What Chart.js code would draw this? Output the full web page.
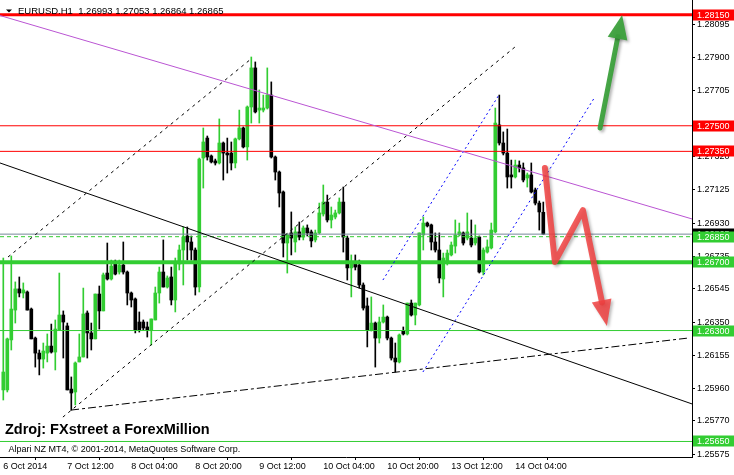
<!DOCTYPE html>
<html>
<head>
<meta charset="utf-8">
<script src="https://cdn.jsdelivr.net/npm/chart.js@4.4.0/dist/chart.umd.min.js"></script>
<style>
  html, body { margin: 0; padding: 0; background: #fff; }
  #wrap { width: 734px; height: 475px; }
</style>
</head>
<body>
<div id="wrap"><canvas id="chart" width="734" height="475"></canvas></div>
<script>
// EURUSD H1, one bar per hour, 6 Oct 20:00 .. 14 Oct 11:00
const opens = [1.25952,1.25952,1.26245,1.26420,1.26544,1.26520,1.26526,1.26426,1.26256,1.26168,
  1.26133,1.26168,1.26209,1.26174,1.26303,1.26391,1.26327,1.25957,1.25940,1.26116,
  1.26145,1.26403,1.26286,1.26251,1.26514,1.26415,1.26637,1.26602,1.26690,1.26643,
  1.26684,1.26643,1.26520,1.26485,1.26350,1.26350,1.26321,1.26303,1.26362,1.26520,
  1.26643,1.26555,1.26614,1.26479,1.26690,1.26772,1.26854,1.26819,1.26772,1.26555,
  1.27311,1.27428,1.27323,1.27294,1.27282,1.27399,1.27340,1.27340,1.27282,1.27423,
  1.27487,1.27376,1.27610,1.27839,1.27592,1.27592,1.27604,1.27680,1.27317,1.27229,
  1.27112,1.26813,1.26872,1.26819,1.26878,1.26848,1.26901,1.26878,1.26831,1.26872,
  1.26983,1.27053,1.26948,1.26965,1.26989,1.27053,1.26842,1.26667,1.26696,1.26684,
  1.26567,1.26444,1.26303,1.26344,1.26256,1.26350,1.26379,1.26256,1.26139,1.26116,
  1.26297,1.26280,1.26461,1.26391,1.26450,1.26860,1.26930,1.26919,1.26819,1.26772,
  1.26602,1.26696,1.26743,1.26795,1.26860,1.26872,1.26842,1.26842,1.26813,1.26848,
  1.26643,1.26760,1.26784,1.26878,1.27505,1.27399,1.27340,1.27212,1.27200,1.27270,
  1.27253,1.27194,1.27212,1.27124,1.27047,1.26993];
const highs = [1.26725,1.26256,1.26737,1.26585,1.26614,1.26579,1.26532,1.26432,1.26262,1.26186,
  1.26227,1.26280,1.26338,1.26362,1.26637,1.26415,1.26344,1.26028,1.26116,1.26280,
  1.26549,1.26415,1.26344,1.26514,1.26561,1.26637,1.26813,1.26713,1.26713,1.26713,
  1.26819,1.26649,1.26526,1.26491,1.26409,1.26362,1.26350,1.26368,1.26555,1.26672,
  1.26831,1.26620,1.26672,1.26725,1.26801,1.26907,1.26907,1.26854,1.26784,1.27311,
  1.27487,1.27440,1.27329,1.27305,1.27540,1.27405,1.27428,1.27405,1.27428,1.27592,
  1.27493,1.27616,1.27903,1.27874,1.27710,1.27680,1.27839,1.27757,1.27323,1.27235,
  1.27118,1.26866,1.26995,1.26907,1.26936,1.26913,1.26919,1.26889,1.26889,1.27047,
  1.27153,1.27094,1.27024,1.27006,1.27077,1.27141,1.26854,1.26743,1.26743,1.26713,
  1.26579,1.26491,1.26497,1.26350,1.26379,1.26450,1.26385,1.26262,1.26227,1.26280,
  1.26321,1.26461,1.26479,1.26461,1.26872,1.26965,1.26936,1.26924,1.26872,1.26872,
  1.26754,1.26772,1.26819,1.26948,1.26930,1.26878,1.26989,1.26948,1.26919,1.26854,
  1.26784,1.26831,1.26930,1.27604,1.27680,1.27464,1.27481,1.27299,1.27299,1.27294,
  1.27282,1.27223,1.27282,1.27135,1.27059,1.27053];
const lows = [1.25893,1.25940,1.26186,1.26344,1.26497,1.26491,1.26420,1.26251,1.26086,1.26040,
  1.26080,1.26116,1.26168,1.26069,1.26303,1.26139,1.25952,1.25834,1.25864,1.26116,
  1.26145,1.26139,1.26186,1.26251,1.26309,1.26415,1.26596,1.26596,1.26626,1.26631,
  1.26631,1.26450,1.26438,1.26286,1.26291,1.26303,1.26262,1.26215,1.26362,1.26461,
  1.26555,1.26549,1.26450,1.26409,1.26655,1.26567,1.26713,1.26713,1.26508,1.26526,
  1.27135,1.27299,1.27282,1.27270,1.27276,1.27182,1.27223,1.27241,1.27253,1.27417,
  1.27370,1.27299,1.27516,1.27575,1.27516,1.27581,1.27598,1.27311,1.27182,1.27024,
  1.26731,1.26637,1.26743,1.26760,1.26831,1.26831,1.26854,1.26790,1.26819,1.26866,
  1.26971,1.26936,1.26901,1.26954,1.26983,1.26760,1.26596,1.26497,1.26655,1.26549,
  1.26420,1.26204,1.26297,1.26086,1.26227,1.26344,1.26245,1.26127,1.26057,1.26110,
  1.26274,1.26274,1.26385,1.26333,1.26444,1.26772,1.26907,1.26772,1.26760,1.26579,
  1.26497,1.26684,1.26737,1.26754,1.26854,1.26801,1.26831,1.26790,1.26801,1.26637,
  1.26626,1.26754,1.26778,1.26872,1.27387,1.27329,1.27135,1.27135,1.27194,1.27229,
  1.27171,1.27141,1.27106,1.27036,1.26889,1.26864];
const closes = [1.26057,1.26251,1.26426,1.26544,1.26520,1.26538,1.26420,1.26251,1.26168,1.26133,
  1.26180,1.26209,1.26174,1.26309,1.26391,1.26350,1.25952,1.25934,1.26110,1.26145,
  1.26397,1.26286,1.26251,1.26514,1.26415,1.26626,1.26602,1.26678,1.26631,1.26684,
  1.26643,1.26520,1.26479,1.26303,1.26303,1.26315,1.26303,1.26368,1.26520,1.26643,
  1.26555,1.26608,1.26479,1.26690,1.26772,1.26848,1.26819,1.26772,1.26555,1.27305,
  1.27405,1.27317,1.27288,1.27282,1.27399,1.27340,1.27329,1.27282,1.27423,1.27487,
  1.27376,1.27610,1.27839,1.27581,1.27604,1.27604,1.27680,1.27317,1.27229,1.27106,
  1.26813,1.26860,1.26842,1.26878,1.26848,1.26901,1.26872,1.26825,1.26872,1.26989,
  1.27053,1.26948,1.26977,1.26989,1.27053,1.26848,1.26667,1.26696,1.26672,1.26567,
  1.26432,1.26303,1.26344,1.26256,1.26350,1.26379,1.26256,1.26139,1.26116,1.26274,
  1.26280,1.26461,1.26391,1.26461,1.26872,1.26930,1.26913,1.26819,1.26772,1.26608,
  1.26725,1.26754,1.26801,1.26860,1.26878,1.26813,1.26878,1.26801,1.26842,1.26643,
  1.26772,1.26790,1.26889,1.27516,1.27399,1.27340,1.27200,1.27200,1.27270,1.27253,
  1.27182,1.27212,1.27112,1.27047,1.26995,1.26865];

const xTickBars = [0, 16, 32, 48, 64, 80, 96, 112, 128];
const xTickLabels = ["6 Oct 2014", "7 Oct 12:00", "8 Oct 04:00", "8 Oct 20:00", "9 Oct 12:00",
  "10 Oct 04:00", "10 Oct 20:00", "13 Oct 12:00", "14 Oct 04:00"];
const yTickValues = [1.25575, 1.25770, 1.25960, 1.26155, 1.26350, 1.26545, 1.26735,
  1.26930, 1.27125, 1.27320, 1.27510, 1.27705, 1.27900, 1.28095];

// horizontal levels and the bid line
const levelPrices = [1.28150, 1.27500, 1.27350, 1.26850, 1.26700, 1.26300, 1.25650];
const bidPrice = 1.26865;

// trend objects, [bar, price] pairs
const orchidLine = [[-0.825, 1.28146], [172.175, 1.26954]];
const blackLine = [[-0.825, 1.27282], [172.175, 1.25870]];
const channelUpper = [[1.18, 1.26731], [61.9, 1.27891]];
const channelLower = [[14.9, 1.25793], [128.2, 1.27967]];
const supportLine = [[16.95, 1.25834], [171.2, 1.26256]];
const blueUpper = [[94.9, 1.26596], [123.9, 1.27680]];
const blueLower = [[104.9, 1.26057], [147.9, 1.27669]];
const greenArrow = [[149.2, 1.27487], [154.7, 1.28149]];
const redArrow = [[135.4, 1.27253], [137.9, 1.26702], [144.9, 1.27006], [150.9, 1.26327]];

// styling
const X_MIN = -0.825, X_MAX = 172.175;
const Y_MIN = 1.25559, Y_MAX = 1.28237;
const BULL = '#32CD32', BEAR = '#000000';
const levelColors = ['#FF0000', '#FF0000', '#FF0000', '#32CD32', '#32CD32', '#32CD32', '#32CD32'];
const levelWidths = [3, 1, 1, 1, 4, 1, 1];
const levelDashes = [[], [], [], [4, 3], [], [], []];
const FONT = '"Liberation Sans", Arial, sans-serif';

const idx = opens.map((_, i) => i);
const colors = idx.map(i => closes[i] >= opens[i] ? BULL : BEAR);

function seg(points, color, width, dash) {
  return {
    type: 'line',
    data: points.map(p => ({ x: p[0], y: p[1] })),
    borderColor: color,
    borderWidth: width,
    borderDash: dash || [],
    pointRadius: 0,
    fill: false,
    tension: 0,
    order: 1
  };
}

const datasets = [
  {
    type: 'bar',
    data: idx.map(i => ({ x: i, y: [lows[i], highs[i]] })),
    backgroundColor: colors,
    barThickness: 1,
    grouped: false,
    order: 10
  },
  {
    type: 'bar',
    data: idx.map(i => ({ x: i, y: [Math.min(opens[i], closes[i]), Math.max(opens[i], closes[i])] })),
    backgroundColor: colors,
    barThickness: 3,
    minBarLength: 1,
    grouped: false,
    order: 9
  },
  seg(orchidLine, '#BA55D3', 1),
  seg(blackLine, '#000000', 1),
  seg(channelUpper, '#000000', 1, [3, 4]),
  seg(channelLower, '#000000', 1, [3, 4]),
  seg(supportLine, '#000000', 1, [8, 3, 3, 3]),
  seg(blueUpper, '#0000FF', 1, [2, 3]),
  seg(blueLower, '#0000FF', 1, [2, 3]),
  seg([[X_MIN, bidPrice], [X_MAX, bidPrice]], '#778899', 1)
];
levelPrices.forEach((p, i) => {
  datasets.push(seg([[X_MIN, p], [X_MAX, p]], levelColors[i], levelWidths[i], levelDashes[i]));
});

function drawArrow(ctx, pts, color, width, headLen, headHalf) {
  const n = pts.length;
  const tip = pts[n - 1], prev = pts[n - 2];
  const dx = tip.x - prev.x, dy = tip.y - prev.y;
  const len = Math.hypot(dx, dy);
  const ux = dx / len, uy = dy / len;
  const bx = tip.x - ux * headLen, by = tip.y - uy * headLen;
  ctx.strokeStyle = color;
  ctx.fillStyle = color;
  ctx.lineWidth = width;
  ctx.beginPath();
  ctx.moveTo(pts[0].x, pts[0].y);
  for (let i = 1; i < n - 1; i++) ctx.lineTo(pts[i].x, pts[i].y);
  ctx.lineTo(bx + ux * 2, by + uy * 2);
  ctx.stroke();
  ctx.beginPath();
  ctx.moveTo(tip.x, tip.y);
  ctx.lineTo(bx - uy * headHalf, by + ux * headHalf);
  ctx.lineTo(bx + uy * headHalf, by - ux * headHalf);
  ctx.closePath();
  ctx.fill();
}

const overlay = {
  id: 'overlay',
  afterDatasetsDraw(chart) {
    const { ctx, scales: { x, y } } = chart;
    const pt = p => ({ x: x.getPixelForValue(p[0]), y: y.getPixelForValue(p[1]) });
    ctx.save();
    ctx.lineCap = 'round';
    ctx.lineJoin = 'round';
    ctx.shadowColor = 'rgba(0,0,0,0.3)';
    ctx.shadowBlur = 3;
    ctx.shadowOffsetX = 2;
    ctx.shadowOffsetY = 2;
    drawArrow(ctx, greenArrow.map(pt), 'rgba(60,160,60,0.95)', 5, 24, 10);
    drawArrow(ctx, redArrow.map(pt), 'rgba(240,65,65,0.85)', 6, 26, 10);
    ctx.restore();
  },
  afterDraw(chart) {
    const { ctx, chartArea, scales: { y } } = chart;
    const last = opens.length - 1;
    ctx.save();
    // symbol header
    ctx.fillStyle = '#000';
    ctx.beginPath();
    ctx.moveTo(6, 9.5); ctx.lineTo(12, 9.5); ctx.lineTo(9, 12.5); ctx.closePath();
    ctx.fill();
    ctx.font = '9.5px ' + FONT;
    ctx.textBaseline = 'alphabetic';
    ctx.textAlign = 'left';
    ctx.fillText('EURUSD.H1  ' + [opens[last], highs[last], lows[last], closes[last]]
      .map(v => v.toFixed(5)).join(' '), 18, 13.5);
    // source texts
    ctx.font = 'bold 14.5px ' + FONT;
    ctx.fillText('Zdroj: FXstreet a ForexMillion', 5, 434);
    ctx.font = '9px ' + FONT;
    ctx.fillText('Alpari NZ MT4, \u00A9 2001-2014, MetaQuotes Software Corp.', 8.5, 452);
    // price labels on the axis
    const left = chartArea.right + 1, w = chart.width - left;
    const boxes = [[bidPrice, '#000000']].concat(levelPrices.map((p, i) => [p, levelColors[i]]));
    ctx.textBaseline = 'middle';
    boxes.forEach(([p, c]) => {
      const py = Math.round(y.getPixelForValue(p));
      ctx.fillStyle = c;
      ctx.fillRect(left, py - 5.5, w, 11);
      ctx.fillStyle = '#fff';
      ctx.fillText(p.toFixed(5), chartArea.right + 5, py + 0.5);
    });
    ctx.restore();
  }
};

new Chart(document.getElementById('chart'), {
  type: 'bar',
  data: { datasets },
  options: {
    responsive: false,
    animation: false,
    devicePixelRatio: 1,
    layout: { padding: 0 },
    plugins: { legend: { display: false }, tooltip: { enabled: false } },
    scales: {
      x: {
        type: 'linear',
        min: X_MIN,
        max: X_MAX,
        offset: false,
        border: { color: '#000', width: 1 },
        grid: { drawOnChartArea: false, drawTicks: true, tickLength: 3, color: '#000' },
        ticks: {
          autoSkip: false, maxRotation: 0, align: 'start', padding: 1,
          color: '#000', font: { family: FONT, size: 9 },
          callback: (v, i) => xTickLabels[i]
        },
        afterBuildTicks: s => { s.ticks = xTickBars.map(v => ({ value: v })); },
        afterFit: s => { s.height = 18; s.paddingLeft = 0; s.paddingRight = 0; }
      },
      y: {
        type: 'linear',
        position: 'right',
        min: Y_MIN,
        max: Y_MAX,
        border: { color: '#000', width: 1 },
        grid: { drawOnChartArea: false, drawTicks: true, tickLength: 3, color: '#000' },
        ticks: {
          autoSkip: false, padding: 2, color: '#000', font: { family: FONT, size: 9 },
          callback: v => v.toFixed(5)
        },
        afterBuildTicks: s => { s.ticks = yTickValues.map(v => ({ value: v })); },
        afterFit: s => { s.width = 42; s.paddingTop = 0; s.paddingBottom = 0; }
      }
    }
  },
  plugins: [overlay]
});
</script>
</body>
</html>
